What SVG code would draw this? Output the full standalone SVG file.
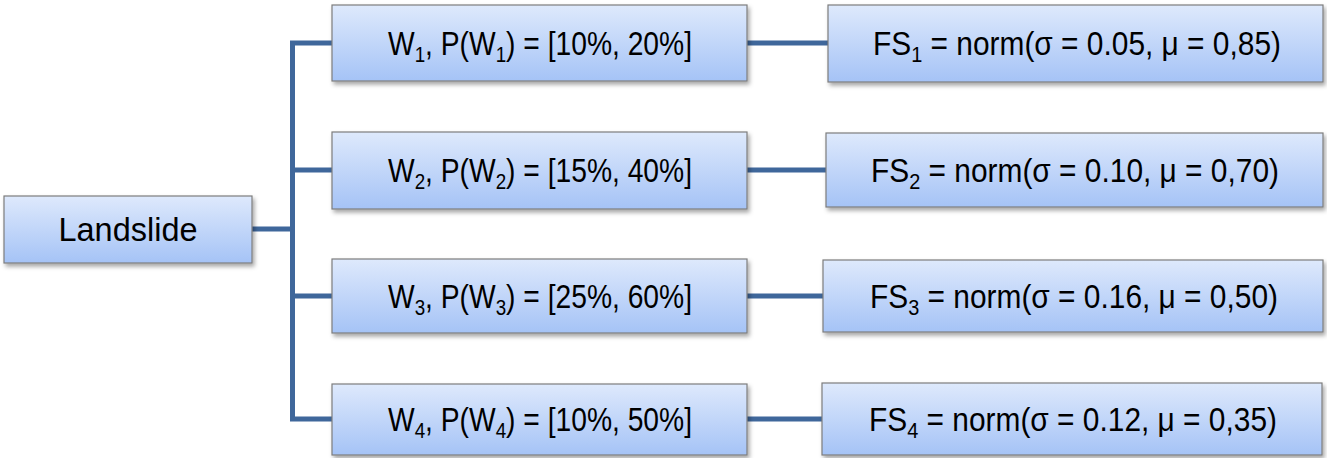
<svg xmlns="http://www.w3.org/2000/svg" width="1327" height="458" viewBox="0 0 1327 458">
<defs>
<linearGradient id="g" x1="0" y1="0" x2="0" y2="1">
<stop offset="0" stop-color="#dee9fc"/>
<stop offset="1" stop-color="#a5c3f6"/>
</linearGradient>
<filter id="sh" x="-5%" y="-10%" width="115%" height="130%">
<feDropShadow dx="2" dy="3" stdDeviation="2" flood-color="#000" flood-opacity="0.35"/>
</filter>
</defs>
<style>
.box{fill:url(#g);stroke:#7d7d7d;stroke-width:1.2;filter:url(#sh)}
.t{font-family:"Liberation Sans",Arial,sans-serif;font-size:33px;fill:#000;text-anchor:middle}
.s{font-size:22px}
.c{fill:none;stroke:#3f679b;stroke-width:5;stroke-linejoin:miter}
</style>
<g id="connectors">
<path class="c" d="M252,229 H292.5"/>
<path class="c" d="M332,43 H292.5 V419 H332"/>
<path class="c" d="M292.5,170 H332"/>
<path class="c" d="M292.5,296 H332"/>
<path class="c" d="M747,43 H828"/>
<path class="c" d="M747,170 H826"/>
<path class="c" d="M747,296 H823"/>
<path class="c" d="M747,419 H822"/>
</g>
<g id="landslide">
<rect class="box" x="4" y="196" width="248" height="67"/>
<text class="t" x="128" y="241" textLength="139" lengthAdjust="spacingAndGlyphs">Landslide</text>
</g>
<g id="w1">
<rect class="box" x="332" y="5" width="415" height="76"/>
<text class="t" x="540" y="55" textLength="304" lengthAdjust="spacingAndGlyphs">W<tspan class="s" dy="7">1</tspan><tspan dy="-7">, P(W</tspan><tspan class="s" dy="7">1</tspan><tspan dy="-7">) = [10%, 20%]</tspan></text>
</g>
<g id="w2">
<rect class="box" x="332" y="132" width="415" height="77"/>
<text class="t" x="540" y="182" textLength="304" lengthAdjust="spacingAndGlyphs">W<tspan class="s" dy="7">2</tspan><tspan dy="-7">, P(W</tspan><tspan class="s" dy="7">2</tspan><tspan dy="-7">) = [15%, 40%]</tspan></text>
</g>
<g id="w3">
<rect class="box" x="332" y="259" width="415" height="74"/>
<text class="t" x="540" y="308" textLength="304" lengthAdjust="spacingAndGlyphs">W<tspan class="s" dy="7">3</tspan><tspan dy="-7">, P(W</tspan><tspan class="s" dy="7">3</tspan><tspan dy="-7">) = [25%, 60%]</tspan></text>
</g>
<g id="w4">
<rect class="box" x="332" y="384" width="415" height="71"/>
<text class="t" x="540" y="431" textLength="304" lengthAdjust="spacingAndGlyphs">W<tspan class="s" dy="7">4</tspan><tspan dy="-7">, P(W</tspan><tspan class="s" dy="7">4</tspan><tspan dy="-7">) = [10%, 50%]</tspan></text>
</g>
<g id="fs1">
<rect class="box" x="828" y="5" width="495" height="77"/>
<text class="t" x="1077" y="55" textLength="408" lengthAdjust="spacingAndGlyphs">FS<tspan class="s" dy="7">1</tspan><tspan dy="-7"> = norm(σ = 0.05, μ = 0,85)</tspan></text>
</g>
<g id="fs2">
<rect class="box" x="826" y="133" width="497" height="74"/>
<text class="t" x="1075" y="182" textLength="408" lengthAdjust="spacingAndGlyphs">FS<tspan class="s" dy="7">2</tspan><tspan dy="-7"> = norm(σ = 0.10, μ = 0,70)</tspan></text>
</g>
<g id="fs3">
<rect class="box" x="823" y="260" width="500" height="72"/>
<text class="t" x="1074" y="308" textLength="408" lengthAdjust="spacingAndGlyphs">FS<tspan class="s" dy="7">3</tspan><tspan dy="-7"> = norm(σ = 0.16, μ = 0,50)</tspan></text>
</g>
<g id="fs4">
<rect class="box" x="822" y="383" width="500" height="72"/>
<text class="t" x="1073" y="431" textLength="408" lengthAdjust="spacingAndGlyphs">FS<tspan class="s" dy="7">4</tspan><tspan dy="-7"> = norm(σ = 0.12, μ = 0,35)</tspan></text>
</g>
</svg>
